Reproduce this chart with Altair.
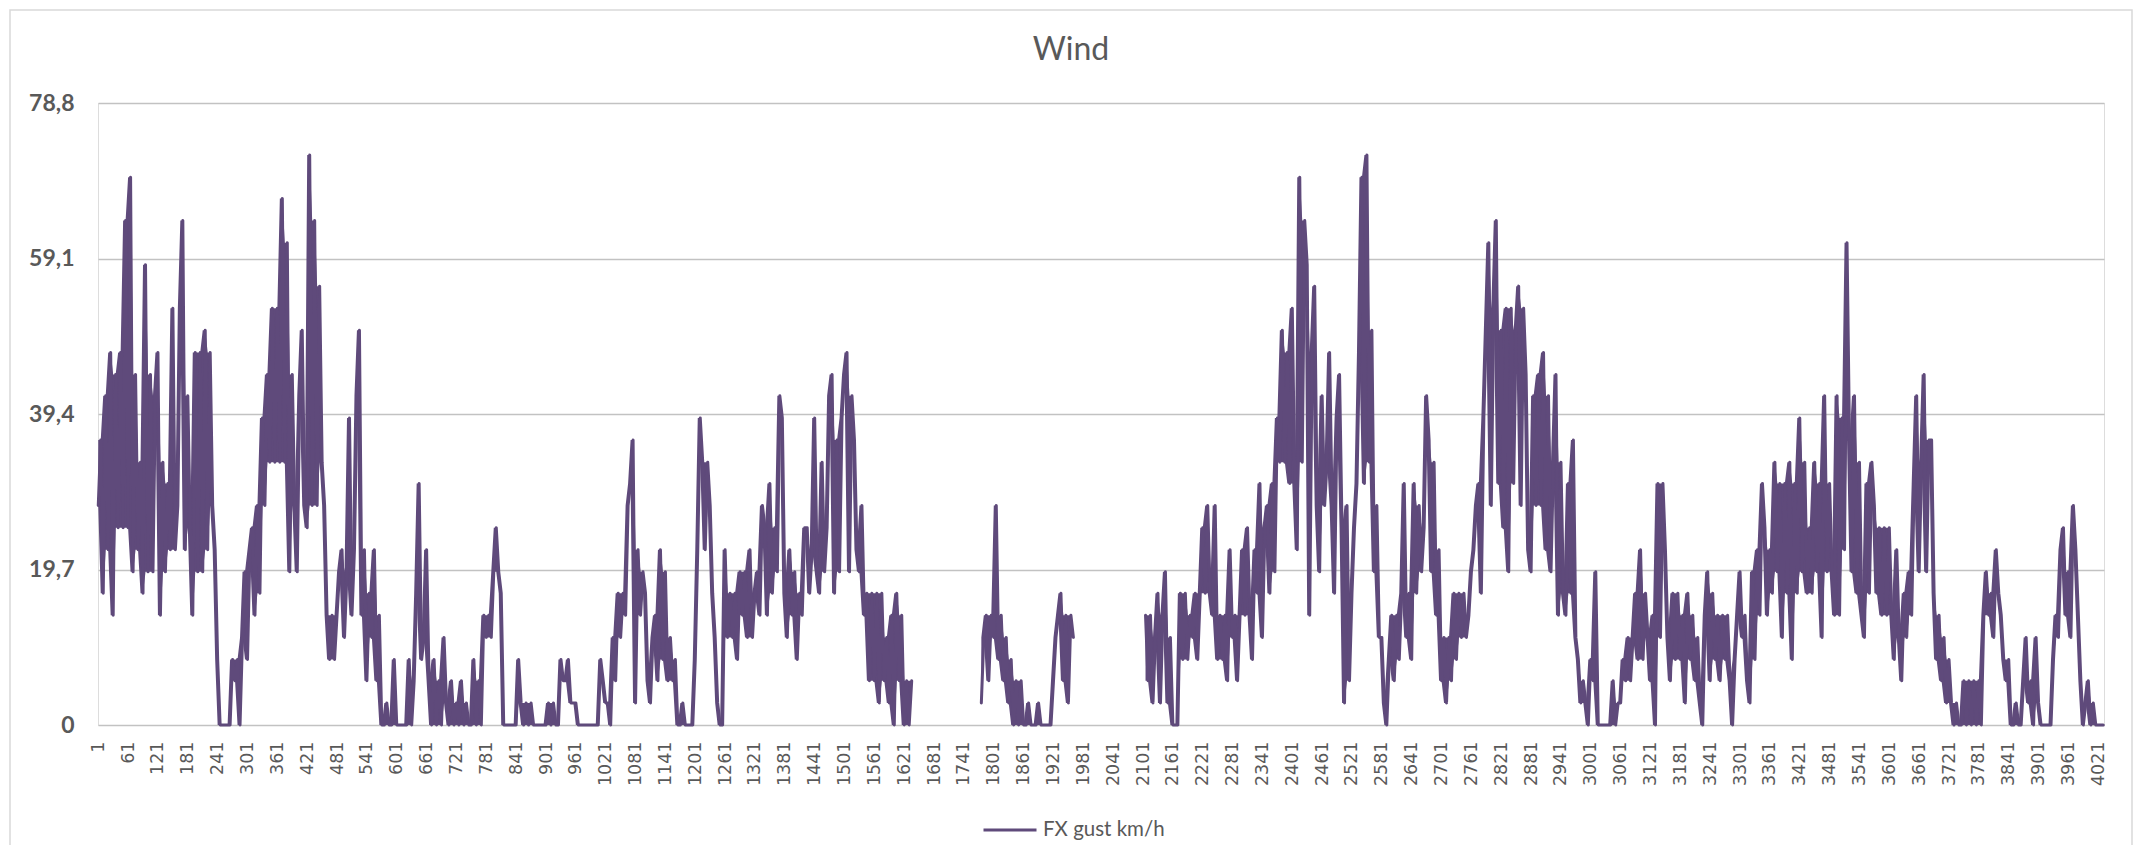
import altair as alt
import pandas as pd

series_name = "FX gust km/h"
title_text = "Wind"
step = 5

# Segment A: indices 1 .. 1636 (every 5th observation)
seg_a_start = 1
seg_a = [
    27.8, 36.1, 16.7, 41.7, 22.2, 47.2, 13.9, 44.4, 25, 47.2,
    25, 63.9, 25, 69.4, 19.4, 44.4, 22.2, 33.3, 16.7, 58.3,
    19.4, 44.4, 19.4, 41.7, 47.2, 13.9, 33.3, 19.4, 30.6, 22.2,
    52.8, 22.2, 27.8, 52.8, 63.9, 22.2, 41.7, 25, 13.9, 47.2,
    19.4, 47.2, 19.4, 50, 22.2, 47.2, 27.8, 22.2, 8.3, 0,
    0, 0, 0, 0, 8.3, 5.6, 8.3, 0, 11.1, 19.4,
    8.3, 22.2, 25, 13.9, 27.8, 16.7, 38.9, 27.8, 44.4, 33.3,
    52.8, 33.3, 52.8, 33.3, 66.7, 33.3, 61.1, 19.4, 44.4, 27.8,
    19.4, 41.7, 50, 27.8, 25, 72.2, 27.8, 63.9, 27.8, 55.6,
    33.3, 27.8, 13.9, 8.3, 13.9, 8.3, 13.9, 19.4, 22.2, 11.1,
    19.4, 38.9, 13.9, 22.2, 41.7, 50, 13.9, 22.2, 5.6, 16.7,
    11.1, 22.2, 5.6, 13.9, 0, 0, 2.8, 0, 0, 8.3,
    0, 0, 0, 0, 0, 8.3, 0, 5.6, 16.7, 30.6,
    8.3, 11.1, 22.2, 5.6, 0, 8.3, 0, 5.6, 0, 11.1,
    2.8, 0, 5.6, 0, 2.8, 0, 5.6, 0, 2.8, 0,
    0, 8.3, 0, 5.6, 0, 13.9, 11.1, 13.9, 11.1, 19.4,
    25, 19.4, 16.7, 0, 0, 0, 0, 0, 0, 8.3,
    2.8, 0, 2.8, 0, 2.8, 0, 0, 0, 0, 0,
    0, 2.8, 0, 2.8, 0, 0, 8.3, 5.6, 5.6, 8.3,
    2.8, 2.8, 2.8, 0, 0, 0, 0, 0, 0, 0,
    0, 0, 8.3, 5.6, 2.8, 2.8, 0, 11.1, 5.6, 16.7,
    11.1, 16.7, 13.9, 27.8, 30.6, 36.1, 2.8, 22.2, 13.9, 19.4,
    16.7, 5.6, 2.8, 11.1, 13.9, 5.6, 22.2, 8.3, 19.4, 5.6,
    11.1, 5.6, 8.3, 0, 0, 2.8, 0, 0, 0, 0,
    8.3, 22.2, 38.9, 33.3, 22.2, 33.3, 27.8, 16.7, 11.1, 2.8,
    0, 0, 22.2, 11.1, 16.7, 11.1, 16.7, 8.3, 19.4, 13.9,
    19.4, 11.1, 22.2, 11.1, 16.7, 19.4, 13.9, 27.8, 25, 13.9,
    30.6, 16.7, 25, 19.4, 41.7, 38.9, 16.7, 11.1, 22.2, 13.9,
    19.4, 8.3, 16.7, 13.9, 25, 25, 16.7, 22.2, 38.9, 19.4,
    16.7, 33.3, 19.4, 25, 41.7, 44.4, 16.7, 36.1, 19.4, 38.9,
    44.4, 47.2, 19.4, 41.7, 36.1, 22.2, 19.4, 27.8, 13.9, 16.7,
    5.6, 16.7, 5.6, 16.7, 2.8, 16.7, 5.6, 11.1, 2.8, 13.9,
    0, 16.7, 5.6, 13.9, 0, 5.6, 0, 5.6,
]

# Segment B: indices 1776 .. 1961
seg_b_start = 1776
seg_b = [
    2.8, 11.1, 13.9, 5.6, 13.9, 11.1, 27.8, 8.3, 13.9, 5.6,
    11.1, 2.8, 8.3, 0, 5.6, 0, 5.6, 0, 0, 2.8,
    0, 0, 0, 2.8, 0, 0, 0, 0, 0, 5.6,
    11.1, 13.9, 16.7, 5.6, 13.9, 2.8, 13.9, 11.1,
]

# Segment C: indices 2106 .. 4031
seg_c_start = 2106
seg_c = [
    13.9, 5.6, 13.9, 2.8, 11.1, 16.7, 2.8, 13.9, 19.4,
    2.8, 11.1, 0, 0, 0, 16.7, 8.3, 16.7, 8.3, 13.9,
    11.1, 16.7, 8.3, 16.7, 25, 16.7, 27.8, 16.7, 13.9, 27.8,
    8.3, 13.9, 8.3, 13.9, 5.6, 22.2, 11.1, 13.9, 5.6, 13.9,
    22.2, 13.9, 25, 13.9, 8.3, 22.2, 16.7, 30.6, 11.1, 25,
    27.8, 16.7, 30.6, 19.4, 38.9, 33.3, 50, 33.3, 47.2, 30.6,
    52.8, 30.6, 22.2, 69.4, 33.3, 63.9, 58.3, 13.9, 47.2, 55.6,
    27.8, 19.4, 41.7, 27.8, 33.3, 47.2, 27.8, 16.7, 38.9, 44.4,
    25, 2.8, 27.8, 5.6, 16.7, 25, 30.6, 47.2, 69.4, 30.6,
    72.2, 33.3, 50, 19.4, 27.8, 11.1, 11.1, 2.8, 0, 8.3,
    13.9, 5.6, 13.9, 8.3, 16.7, 30.6, 11.1, 16.7, 8.3, 30.6,
    16.7, 27.8, 19.4, 25, 41.7, 36.1, 19.4, 33.3, 13.9, 22.2,
    5.6, 11.1, 2.8, 11.1, 5.6, 16.7, 8.3, 16.7, 11.1, 16.7,
    11.1, 13.9, 19.4, 22.2, 27.8, 30.6, 16.7, 38.9, 50, 61.1,
    27.8, 52.8, 63.9, 30.6, 50, 25, 52.8, 19.4, 52.8, 30.6,
    50, 55.6, 27.8, 52.8, 44.4, 22.2, 19.4, 41.7, 27.8, 44.4,
    27.8, 47.2, 22.2, 41.7, 19.4, 33.3, 44.4, 13.9, 33.3, 16.7,
    13.9, 30.6, 16.7, 36.1, 11.1, 8.3, 2.8, 5.6, 2.8, 0,
    8.3, 5.6, 19.4, 0, 0, 0, 0, 0, 0, 5.6,
    0, 2.8, 2.8, 8.3, 5.6, 11.1, 5.6, 11.1, 16.7, 8.3,
    22.2, 8.3, 16.7, 11.1, 5.6, 13.9, 0, 30.6, 11.1, 30.6,
    22.2, 11.1, 5.6, 16.7, 8.3, 16.7, 8.3, 13.9, 2.8, 16.7,
    8.3, 13.9, 5.6, 11.1, 2.8, 0, 13.9, 19.4, 5.6, 16.7,
    8.3, 13.9, 5.6, 13.9, 8.3, 13.9, 5.6, 0, 8.3, 13.9,
    19.4, 11.1, 13.9, 5.6, 2.8, 19.4, 8.3, 22.2, 13.9, 30.6,
    25, 13.9, 22.2, 16.7, 33.3, 19.4, 30.6, 11.1, 30.6, 16.7,
    33.3, 8.3, 30.6, 16.7, 38.9, 19.4, 33.3, 16.7, 25, 16.7,
    33.3, 19.4, 30.6, 11.1, 41.7, 19.4, 30.6, 19.4, 13.9, 41.7,
    13.9, 38.9, 22.2, 61.1, 36.1, 19.4, 41.7, 16.7, 33.3, 13.9,
    11.1, 30.6, 16.7, 33.3, 27.8, 16.7, 25, 13.9, 25, 13.9,
    25, 13.9, 8.3, 22.2, 11.1, 5.6, 16.7, 11.1, 19.4, 13.9,
    30.6, 41.7, 19.4, 33.3, 44.4, 19.4, 36.1, 36.1, 16.7, 8.3,
    13.9, 5.6, 11.1, 2.8, 8.3, 2.8, 0, 2.8, 0, 0,
    5.6, 0, 5.6, 0, 5.6, 0, 5.6, 0, 13.9, 19.4,
    13.9, 16.7, 11.1, 22.2, 16.7, 13.9, 8.3, 5.6, 8.3, 0,
    0, 2.8, 0, 0, 5.6, 11.1, 2.8, 5.6, 0, 11.1,
    2.8, 0, 0, 0, 0, 0, 8.3, 13.9, 11.1, 22.2,
    25, 13.9, 19.4, 11.1, 27.8, 22.2, 13.9, 5.6, 0, 2.8,
    5.6, 0, 2.8, 0, 0, 0, 0,
]

y_ticks = [0, 19.7, 39.4, 59.1, 78.8]
x_ticks = list(range(1, 4022, 60))

rows = []
for seg_id, (start, vals) in enumerate(
    [(seg_a_start, seg_a), (seg_b_start, seg_b), (seg_c_start, seg_c)]
):
    for i, v in enumerate(vals):
        nxt = vals[i + 1] if i + 1 < len(vals) else v
        rows.append({
            "idx": start + step * i, "kmh": v, "seg": seg_id, "series": series_name,
            "lo": min(v, nxt), "hi": max(v, nxt),
        })
df = pd.DataFrame(rows)

grey = "#595959"
purple = "#5f4a7b"

x_enc = alt.X(
    "idx:Q",
    scale=alt.Scale(domain=[0.5, 4032.5], nice=False, zero=False),
    axis=alt.Axis(
        values=x_ticks, format="d", labelAngle=-90, labelAlign="right", labelBaseline="middle",
        grid=False, domain=False, ticks=False, title=None,
        labelFont="DejaVu Sans", labelFontSize=17.5, labelColor=grey,
        labelPadding=16, labelOverlap=False, labelFlush=False,
    ),
)
y_scale = alt.Scale(domain=[0, 78.8], nice=False, zero=True)
y_axis = alt.Axis(
    values=y_ticks,
    labelExpr="datum.value == 0 ? '0' : replace(format(datum.value, '.1f'), '.', ',')",
    grid=True, gridColor="#c2c2c2", gridWidth=1.5,
    domain=False, ticks=False, title=None,
    labelFont="Lato", labelFontWeight="bold", labelFontSize=23,
    labelColor=grey, labelPadding=24,
)

# dense texture of the hourly gusts: the span swept between neighbouring readings
band = alt.Chart(df).mark_area(color=purple, opacity=1).encode(
    x=x_enc,
    y=alt.Y("lo:Q", scale=y_scale, axis=y_axis, title=None),
    y2="hi:Q",
    detail="seg:N",
)

line = alt.Chart(df).mark_line(
    strokeWidth=3, strokeJoin="round", strokeCap="round"
).encode(
    x=x_enc,
    y=alt.Y("kmh:Q", scale=y_scale, axis=y_axis, title=None),
    color=alt.Color(
        "series:N",
        scale=alt.Scale(range=[purple]),
        legend=alt.Legend(
            orient="none", legendX=884, legendY=699, title=None,
            symbolType="stroke", symbolSize=2809, symbolStrokeWidth=3,
            symbolStrokeColor=purple,
            labelFont="Lato", labelFontSize=20.5, labelColor=grey, labelOffset=5,
        ),
    ),
    detail="seg:N",
)

one_row = pd.DataFrame({"a": [0]})

frame = alt.Chart(one_row).mark_rect(
    fill="transparent", stroke="#d9d9d9", strokeWidth=1.5
).encode(
    x=alt.value(-88), x2=alt.value(2034), y=alt.value(-93), y2=alt.value(780)
)

title = alt.Chart(one_row).mark_text(
    text=title_text, font="Lato", fontSize=32, color=grey,
    align="center", baseline="alphabetic",
).encode(x=alt.value(973), y=alt.value(-43))

chart = alt.layer(frame, band, line, title).properties(
    width=2006,
    height=622,
    autosize=alt.AutoSizeParams(type="none"),
    padding={"left": 90, "top": 95, "right": 30, "bottom": 120},
).configure_view(strokeWidth=0).configure(background="white")

chart.save("out.html", embed_options={"renderer": "svg", "actions": False})
